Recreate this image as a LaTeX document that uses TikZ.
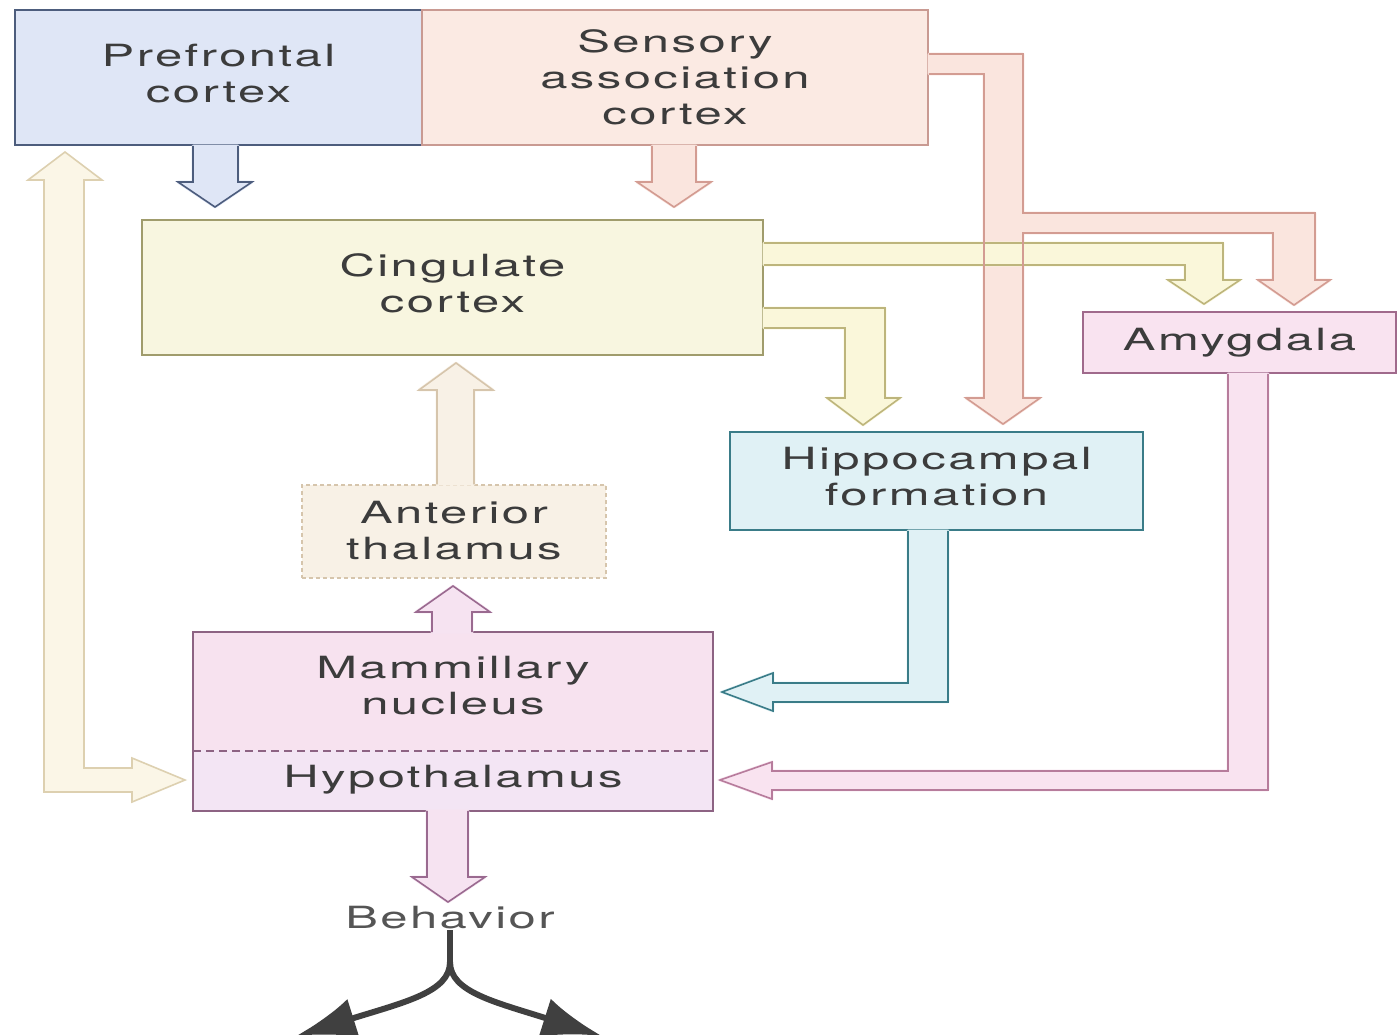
\documentclass[tikz,border=0pt]{standalone}
\usepackage{fontspec}
\newfontfamily\lblfont[FakeStretch=1.6,LetterSpace=8]{TeX Gyre Heros}
\usetikzlibrary{arrows.meta,calc}

\definecolor{txt}{HTML}{3C3C3C}
\definecolor{behTxt}{HTML}{555555}
\definecolor{pfFill}{HTML}{DFE6F6}
\definecolor{pfLine}{HTML}{4D5D7D}
\definecolor{snsFill}{HTML}{FBEAE3}
\definecolor{snsLine}{HTML}{C99A92}
\definecolor{snsArr}{HTML}{FAE5DE}
\definecolor{snsArrLine}{HTML}{D39C92}
\definecolor{cgFill}{HTML}{F8F6E0}
\definecolor{cgLine}{HTML}{A09C6C}
\definecolor{ylArr}{HTML}{FAF7DA}
\definecolor{ylArrLine}{HTML}{BDB57C}
\definecolor{antFill}{HTML}{F8F1E6}
\definecolor{antLine}{HTML}{D6C5AC}
\definecolor{lfArr}{HTML}{FBF6E7}
\definecolor{lfArrLine}{HTML}{DDD0B0}
\definecolor{hipFill}{HTML}{E0F1F5}
\definecolor{hipLine}{HTML}{3A7C88}
\definecolor{amyFill}{HTML}{F9E3F0}
\definecolor{amyLine}{HTML}{A06A8C}
\definecolor{amyArrLine}{HTML}{B77C9C}
\definecolor{mamFill}{HTML}{F7E2EF}
\definecolor{hypFill}{HTML}{F3E5F4}
\definecolor{mamLine}{HTML}{8D6383}
\definecolor{mamArr}{HTML}{F6E3F1}
\definecolor{mamArrLine}{HTML}{9A6A90}
\definecolor{blk}{HTML}{404040}

% fat block arrow: #1 fill colour, #2 outline colour, #3 open outline path (ends on a box edge)
\newcommand\blockarr[3]{%
  \filldraw[fill=#1,draw=#1,line width=2.8pt,line join=round] #3 -- cycle;
  \draw[draw=#2,line width=1.6pt,line join=miter] #3;}

\begin{document}
\begin{tikzpicture}[x=1pt,y=-1pt,
  box/.style={rectangle, inner sep=0pt, line width=1.8pt, text=txt, align=center,
    font=\lblfont\fontsize{30.6pt}{36pt}\selectfont}]
\useasboundingbox (0,0) rectangle (1399,1034);
\fill[white] (0,0) rectangle (1399,1034);

% ---------------- boxes ----------------
\node[box, fill=pfFill, draw=pfLine, text depth=9pt, minimum width=407pt, minimum height=135pt] (pf) at (218.5,77.5) {Prefrontal\\cortex};
\node[box, fill=snsFill, draw=snsLine, minimum width=506pt, minimum height=135pt] (sac) at (675,77.5) {Sensory\\association\\cortex};
\node[box, fill=cgFill, draw=cgLine, text depth=9pt, minimum width=621pt, minimum height=135pt] (cing) at (452.5,287.5) {Cingulate\\cortex};
\node[box, fill=antFill, draw=antLine, line width=1.5pt, dash pattern=on 4pt off 3pt, text depth=3pt, minimum width=304pt, minimum height=93pt] (ant) at (454,531.5) {Anterior\\thalamus};
\node[box, fill=hipFill, draw=hipLine, text depth=9pt, minimum width=413pt, minimum height=98pt] (hip) at (936.5,481) {Hippocampal\\formation};
\node[box, fill=amyFill, draw=amyLine, minimum width=313pt, minimum height=61pt] (amy) at (1239.5,342.5) {Amygdala};
\node[box, fill=mamFill, text depth=12pt, minimum width=518pt, minimum height=117pt] (mam) at (453,691.5) {Mammillary\\nucleus};
\node[box, fill=hypFill, minimum width=518pt, minimum height=60pt] (hyp) at (453,780) {Hypothalamus};
\draw[mamLine, line width=1.8pt] (mam.north west) rectangle (hyp.south east);
\draw[mamLine, line width=1.5pt, dash pattern=on 8pt off 5pt] (mam.south west) -- (mam.south east);
\node[box, text=behTxt] (beh) at (450,918) {Behavior};

% ---------------- block arrows ----------------
% Prefrontal -> Cingulate
\blockarr{pfFill}{pfLine}{(193,0 |- pf.south) -- (193,182) -- (178,182) -- (215,207) -- (252,182) -- (238,182) -- (238,0 |- pf.south)}
% Sensory -> Cingulate
\blockarr{snsArr}{snsArrLine}{(652,0 |- sac.south) -- (652,182) -- (637,182) -- (674,207) -- (711,182) -- (696,182) -- (696,0 |- sac.south)}
% Sensory -> Hippocampal formation and Amygdala
\blockarr{snsArr}{snsArrLine}{(sac.east |- 0,54) -- (1023,54) -- (1023,213) -- (1315,213) -- (1315,280) -- (1330,280) -- (1294,305) -- (1258,280) -- (1273,280) -- (1273,233) -- (1023,233) -- (1023,398) -- (1040,398) -- (1003,424) -- (966,398) -- (984,398) -- (984,74) -- (sac.east |- 0,74)}
% Cingulate -> Amygdala
\blockarr{ylArr}{ylArrLine}{(cing.east |- 0,243) -- (1223,243) -- (1223,280) -- (1240,280) -- (1204,304) -- (1168,280) -- (1185,280) -- (1185,265) -- (cing.east |- 0,265)}
% redraw sensory shaft edges across the crossing
\draw[snsArrLine, line width=1.6pt] (984,240) -- (984,268) (1023,240) -- (1023,268);
% Cingulate -> Hippocampal formation
\blockarr{ylArr}{ylArrLine}{(cing.east |- 0,308) -- (885,308) -- (885,398) -- (900,398) -- (863,425) -- (827,398) -- (845,398) -- (845,328) -- (cing.east |- 0,328)}
% Anterior thalamus -> Cingulate
\blockarr{antFill}{antLine}{(437,0 |- ant.north) -- (437,390) -- (419,390) -- (456,363) -- (493,390) -- (474,390) -- (474,0 |- ant.north)}
% Mammillary -> Anterior thalamus
\blockarr{mamArr}{mamArrLine}{(432,0 |- mam.north) -- (432,612) -- (416,612) -- (453,586) -- (490,612) -- (472,612) -- (472,0 |- mam.north)}
% Hypothalamus -> Behavior
\blockarr{mamArr}{mamArrLine}{(427,0 |- hyp.south) -- (427,877) -- (412,877) -- (448,902) -- (485,877) -- (468,877) -- (468,0 |- hyp.south)}
% Hippocampal formation -> Mammillary
\blockarr{hipFill}{hipLine}{(908,0 |- hip.south) -- (908,683) -- (773,683) -- (773,673) -- (722,692) -- (773,711) -- (773,702) -- (948,702) -- (948,0 |- hip.south)}
% Amygdala -> Hypothalamus
\blockarr{amyFill}{amyArrLine}{(1228,0 |- amy.south) -- (1228,771) -- (772,771) -- (772,762) -- (720,780) -- (772,799) -- (772,790) -- (1268,790) -- (1268,0 |- amy.south)}
% Prefrontal <-> Hypothalamus (double headed)
\filldraw[fill=lfArr, draw=lfArrLine, line width=1.6pt, line join=miter]
  (44,180) -- (28,180) -- (65,152) -- (102,180) -- (84,180) -- (84,768) -- (132,768) -- (132,758)
  -- (185,780) -- (132,802) -- (132,792) -- (44,792) -- cycle;

% ---------------- behaviour outputs ----------------
\coordinate (split) at (450,962);
\coordinate (outL) at (296,1036);
\coordinate (outR) at (602,1036);
\draw[blk, line width=6pt] (beh.south) -- (split);
\draw[blk, line width=6pt, -{Latex[length=60pt,width=40pt]}] (split) .. controls (450,992) and (405,1002) .. (outL);
\draw[blk, line width=6pt, -{Latex[length=60pt,width=40pt]}] (split) .. controls (450,992) and (495,1002) .. (outR);
\end{tikzpicture}
\end{document}
